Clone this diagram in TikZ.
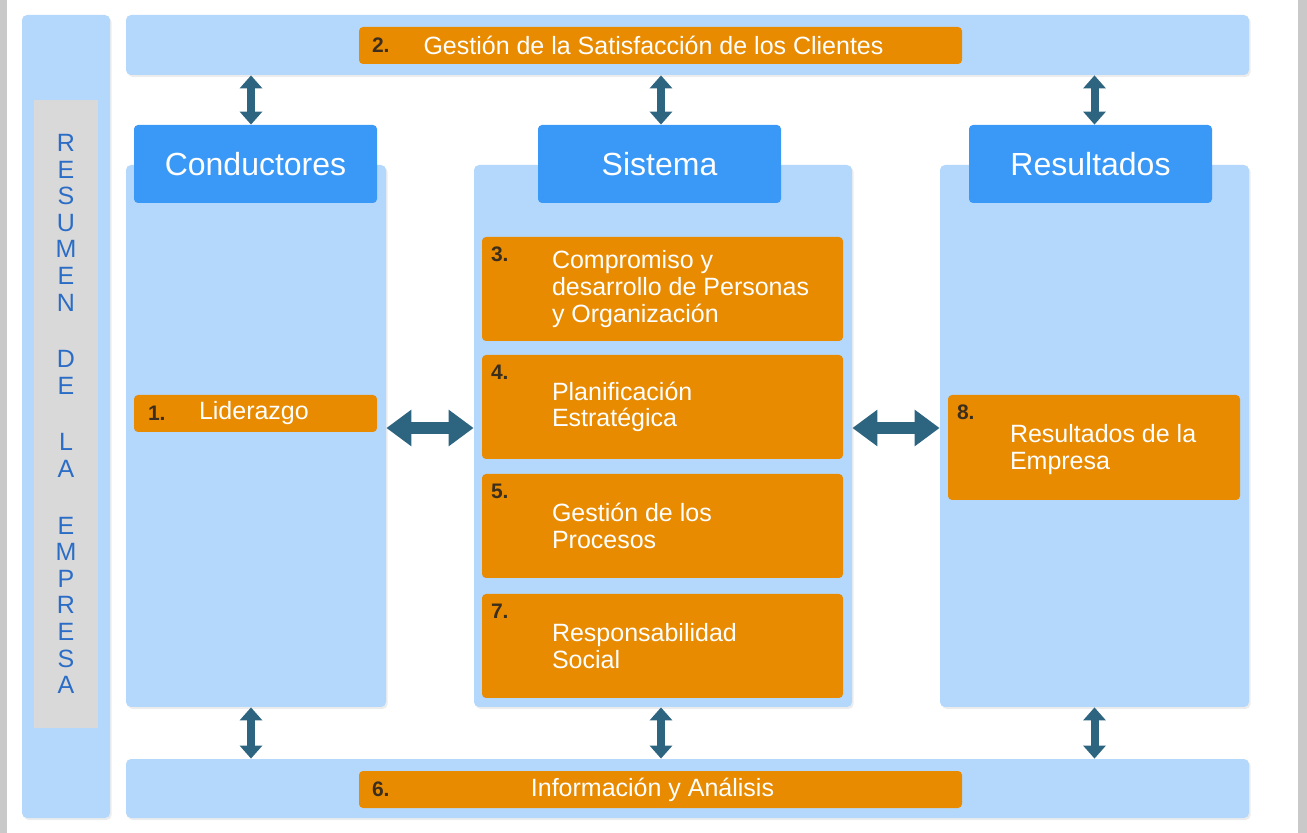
\documentclass[tikz,border=0pt]{standalone}
\usepackage{fontspec}
\setmainfont{Liberation Sans}
\usetikzlibrary{arrows.meta,shadows}
\definecolor{barblue}{HTML}{B4D8FC}
\definecolor{headblue}{HTML}{3A98F7}
\definecolor{boxorange}{HTML}{E88B00}
\definecolor{panelgray}{HTML}{D9D9D9}
\definecolor{edgegray}{HTML}{C9C9C9}
\definecolor{letterblue}{HTML}{2B6DC6}
\definecolor{arrowteal}{HTML}{2D6581}
\definecolor{numbrown}{HTML}{3B2E1C}

\begin{document}
\begin{tikzpicture}
[x=0.5pt,y=-0.5pt,%
  every node/.style={inner sep=0pt},%
  bar/.style={fill=barblue,rounded corners=2.5pt,%
    drop shadow={opacity=0.15,shadow xshift=0.8pt,shadow yshift=-1pt}},%
  panel/.style={fill=panelgray,minimum width=32pt,minimum height=314pt,%
    text=letterblue,align=center,font=\fontsize{12.5}{13.3}\selectfont},%
  head/.style={fill=headblue,rounded corners=2pt,text=white,%
    minimum width=121.5pt,minimum height=39pt,font=\fontsize{16}{18}\selectfont},%
  obox/.style={fill=boxorange,rounded corners=2pt},%
  sysbox/.style={obox,minimum width=180.5pt,minimum height=52pt},%
  num/.style={text=numbrown,anchor=north west,font=\fontsize{10.5}{12}\selectfont\bfseries},%
  otext/.style={text=white,anchor=west,align=left,font=\fontsize{12.5}{13.3}\selectfont},%
  vlink/.style={arrowteal,line width=4pt,%
    {Triangle[width=11pt,length=6.5pt]}-{Triangle[width=11pt,length=6.5pt]}},%
  hlink/.style={arrowteal,line width=6pt,%
    {Triangle[width=17.5pt,length=12.5pt]}-{Triangle[width=17.5pt,length=12.5pt]}}]
\useasboundingbox (0,0) rectangle (1307,833);
\fill[edgegray] (0,0) rectangle (7,833);
\fill[edgegray] (1298,0) rectangle (1307,833);

\node[bar,minimum width=44pt,minimum height=401.5pt] (side) at (66,416.5) {};
\node[panel] (resumen) at (66,414)
  {R\\E\\S\\U\\M\\E\\N\\[15pt]D\\E\\[15pt]L\\A\\[15pt]E\\M\\P\\R\\E\\S\\A};

\node[bar,minimum width=561.5pt,minimum height=30pt] (top) at (687.5,45) {};
\node[obox,minimum width=301.5pt,minimum height=18.5pt] (o2) at (660.5,45.5) {};
\node[num,anchor=west] (n2) at ([xshift=6.5pt]o2.west) {2.};
\node[otext,anchor=center] (t2) at ([xshift=-3.5pt]o2.center)
  {Gestión de la Satisfacción de los Clientes};

\node[bar,minimum width=561.5pt,minimum height=29.5pt] (bot) at (687.5,788.5) {};
\node[obox,minimum width=301.5pt,minimum height=18.5pt] (o6) at (660.5,789.5) {};
\node[num,anchor=west] (n6) at ([xshift=6.5pt]o6.west) {6.};
\node[otext,anchor=center] (t6) at ([xshift=-4pt]o6.center) {Información y Análisis};

\node[bar,minimum width=130pt,minimum height=271pt] (ccond) at (256,436) {};
\node[bar,minimum width=189pt,minimum height=271pt] (csys) at (663,436) {};
\node[bar,minimum width=154.5pt,minimum height=271pt] (cres) at (1094.5,436) {};

\node[head] (hcond) at (255.5,164) {Conductores};
\node[head] (hsys) at (659.5,164) {Sistema};
\node[head] (hres) at (1090.5,164) {Resultados};

\node[obox,minimum width=121.5pt,minimum height=18.5pt] (o1) at (255.5,413.5) {};
\node[num,anchor=west] (n1) at ([xshift=7pt]o1.west) {1.};
\node[otext] (t1) at ([xshift=32.5pt]o1.west) {Liderazgo};

\node[sysbox] (o3) at (662.5,289) {};
\node[num] (n3) at ([shift={(4.5pt,-5pt)}]o3.north west) {3.};
\node[otext] (t3) at ([xshift=35pt]o3.west)
  {Compromiso y\\desarrollo de Personas\\y Organización};

\node[sysbox] (o4) at (662.5,407) {};
\node[num] (n4) at ([shift={(4.5pt,-5pt)}]o4.north west) {4.};
\node[otext] (t4) at ([xshift=35pt]o4.west) {Planificación\\Estratégica};

\node[sysbox] (o5) at (662.5,526) {};
\node[num] (n5) at ([shift={(4.5pt,-5pt)}]o5.north west) {5.};
\node[otext] (t5) at ([xshift=35pt]o5.west) {Gestión de los\\Procesos};

\node[sysbox] (o7) at (662.5,646) {};
\node[num] (n7) at ([shift={(4.5pt,-5pt)}]o7.north west) {7.};
\node[otext] (t7) at ([xshift=35pt]o7.west) {Responsabilidad\\Social};

\node[obox,minimum width=146pt,minimum height=52.5pt] (o8) at (1094,447.5) {};
\node[num] (n8) at ([shift={(4.5pt,-5pt)}]o8.north west) {8.};
\node[otext] (t8) at ([xshift=31pt,yshift=-1pt]o8.west) {Resultados de la\\Empresa};

\draw[vlink] ([xshift=-2.5pt]ccond.north |- top.south) -- ([xshift=-2.5pt]ccond.north |- hcond.north);
\draw[vlink] ([xshift=-1pt]csys.north |- top.south) -- ([xshift=-1pt]csys.north |- hsys.north);
\draw[vlink] (cres.north |- top.south) -- (cres.north |- hres.north);
\draw[vlink] ([xshift=-2.5pt]ccond.south) -- ([xshift=-2.5pt]ccond.south |- bot.north);
\draw[vlink] ([xshift=-1pt]csys.south) -- ([xshift=-1pt]csys.south |- bot.north);
\draw[vlink] (cres.south) -- (cres.south |- bot.north);
\draw[hlink] ([yshift=4pt]ccond.east) -- ([yshift=4pt]csys.west);
\draw[hlink] ([yshift=4pt]csys.east) -- ([yshift=4pt]cres.west);
\end{tikzpicture}
\end{document}
